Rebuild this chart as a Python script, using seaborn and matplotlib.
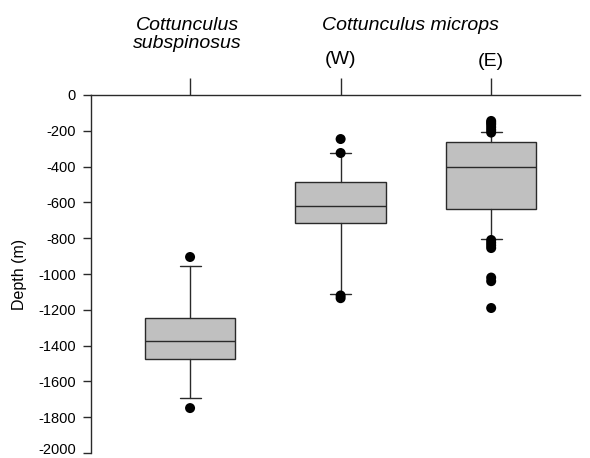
import matplotlib
matplotlib.use("Agg")
import matplotlib.pyplot as plt
import matplotlib.transforms as mtransforms
import seaborn as sns
import pandas as pd

groups = ["subspinosus", "microps W", "microps E"]
q1 = [-1475, -715, -637]
median = [-1374, -620, -402]
q3 = [-1246, -486, -262]
whisker_low = [-1693, -1112, -804]
whisker_high = [-955, -324, -206]
outliers = [
    [-905, -1749],
    [-246, -324, -1120, -1135],
    [-145, -155, -165, -180, -195, -210, -810, -825, -840, -855, -1020, -1040, -1190],
]
yticks = list(range(0, -2001, -200))

sns.set_style("white")
plt.rcParams["font.family"] = ["Liberation Sans", "DejaVu Sans"]
plt.rcParams["text.color"] = "black"
plt.rcParams["ytick.color"] = "black"
plt.rcParams["axes.labelcolor"] = "black"

fig = plt.figure(figsize=(5.9, 4.58), dpi=100)
ax = fig.add_axes([91 / 590, 1 - 453 / 458, (580 - 91) / 590, (453 - 95) / 458])

stats = []
for i, g in enumerate(groups):
    stats.append(dict(label=g, med=median[i], q1=q1[i], q3=q3[i],
                      whislo=whisker_low[i], whishi=whisker_high[i], fliers=[]))

edge = "#2a2a2a"
ax.bxp(stats, positions=[0, 1, 2], widths=0.6, patch_artist=True, showfliers=False,
       boxprops=dict(facecolor="#c0c0c0", edgecolor=edge, linewidth=1.0),
       medianprops=dict(color=edge, linewidth=1.0),
       whiskerprops=dict(color=edge, linewidth=1.0),
       capprops=dict(color=edge, linewidth=1.0), capwidths=0.14)

fl = pd.DataFrame([(i, v) for i, vals in enumerate(outliers) for v in vals], columns=["pos", "depth"])
sns.scatterplot(data=fl, x="pos", y="depth", ax=ax, color="black", s=52, edgecolor="none", zorder=5, legend=False)

ax.set_xlim(-0.658, 2.59)
ax.set_ylim(-2000, 0)
ax.set_yticks(yticks)
ax.set_yticklabels([str(t) for t in yticks], fontsize=10.5)
ax.xaxis.tick_top()
ax.set_xticks([0, 1, 2])
ax.set_xticklabels([])
ax.tick_params(axis="x", direction="out", length=12, width=1.0, color=edge, top=True, bottom=False)
ax.tick_params(axis="y", direction="out", length=6, width=1.0, color=edge, left=True, pad=5)
for s in ["right", "bottom"]:
    ax.spines[s].set_visible(False)
for s in ["left", "top"]:
    ax.spines[s].set_color(edge)
    ax.spines[s].set_linewidth(1.0)
ax.set_xlabel("")
ax.set_ylabel("Depth (m)", fontsize=11.5, labelpad=8)

# keep the bottom tick label inside the canvas
last = ax.get_yticklabels()[-1]
last.set_transform(last.get_transform() + mtransforms.ScaledTranslation(0, 3 / 72, fig.dpi_scale_trans))

def px(x, y):
    return x / 590, 1 - y / 458

fig.text(*px(187, 25), "Cottunculus", fontsize=14, style="italic", ha="center", va="center")
fig.text(*px(187, 44), "subspinosus", fontsize=14, style="italic", ha="center", va="center")
fig.text(*px(410, 25), "Cottunculus microps", fontsize=14, style="italic", ha="center", va="center")
fig.text(*px(340, 60), "(W)", fontsize=14, ha="center", va="center")
fig.text(*px(491, 62), "(E)", fontsize=14, ha="center", va="center")

fig.savefig("out.png", dpi=100, facecolor="white")
